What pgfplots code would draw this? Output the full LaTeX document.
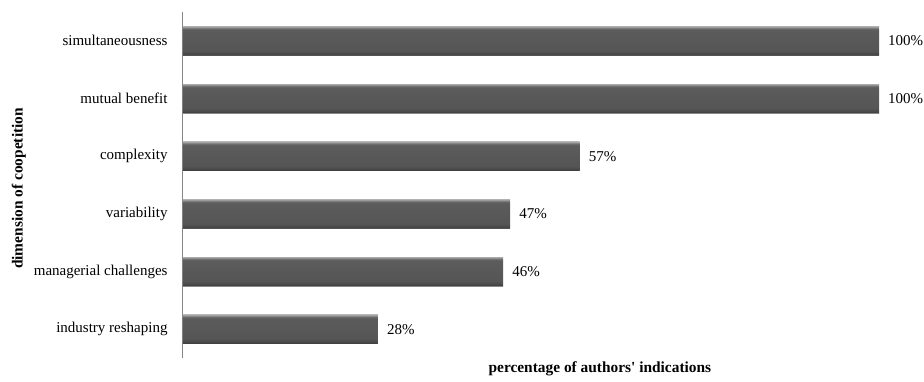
\documentclass[border=0pt]{standalone}
\usepackage{fontspec}
\setmainfont{Liberation Serif}
\usepackage{pgfplots}
\pgfplotsset{compat=1.18}

% bevelled grey fill for the bars (path spans 25bp..75bp of the shading)
\pgfdeclareverticalshading{barshade}{100bp}{%
  color(0bp)=(rgb,255:red,138;green,138;blue,138);
  color(25bp)=(rgb,255:red,138;green,138;blue,138);
  color(25.8bp)=(rgb,255:red,64;green,64;blue,64);
  color(28.5bp)=(rgb,255:red,74;green,74;blue,74);
  color(33bp)=(rgb,255:red,85;green,85;blue,85);
  color(69bp)=(rgb,255:red,92;green,92;blue,92);
  color(71.5bp)=(rgb,255:red,112;green,112;blue,112);
  color(74bp)=(rgb,255:red,158;green,158;blue,158);
  color(75bp)=(rgb,255:red,170;green,170;blue,170);
  color(100bp)=(rgb,255:red,170;green,170;blue,170)}

\newcommand\lab{\fontsize{15}{17}\selectfont}
\newcommand\blab{\fontsize{15.4}{18}\selectfont\bfseries}

\begin{document}
\lab
\begin{tikzpicture}
\begin{axis}[
  scale only axis,
  width=696pt, height=346pt,
  xbar, bar shift=0pt,
  bar width=29pt,
  xmin=0, xmax=100,
  ymin=-0.5, ymax=5.5,
  axis x line*=bottom,
  axis y line*=left,
  x axis line style={draw=none},
  xtick=\empty,
  y axis line style={draw={rgb,255:red,134;green,134;blue,134}, line width=1pt, -},
  ytick={0,1,2,3,4,5},
  yticklabels={industry reshaping, managerial challenges, variability, complexity, mutual benefit, simultaneousness},
  ytick style={draw=none},
  yticklabel style={font=\lab, xshift=-6pt},
  ylabel={dimension of coopetition},
  every axis y label/.style={at={(axis description cs:-0.236,0.49)}, anchor=center, rotate=90, font=\blab},
  nodes near coords={\pgfmathprintnumber[assume math mode=true]{\pgfplotspointmeta}\%},
  nodes near coords style={anchor=west, inner sep=0pt, xshift=9pt, font=\lab, text=black},
  every axis plot/.append style={draw=none, shading=barshade},
  clip=false,
]
% one plot per bar so each bar carries its own shading
\addplot coordinates {(28,0)};
\addplot coordinates {(46,1)};
\addplot coordinates {(47,2)};
\addplot coordinates {(57,3)};
\addplot coordinates {(100,4)};
\addplot coordinates {(100,5)};
\node[font=\blab] at (axis cs:59.9,-0.5) [yshift=-11pt] {percentage of authors\textquotesingle\ indications};
\end{axis}
\path (-183pt,-21pt) rectangle (741pt,358pt);
\end{tikzpicture}
\end{document}
